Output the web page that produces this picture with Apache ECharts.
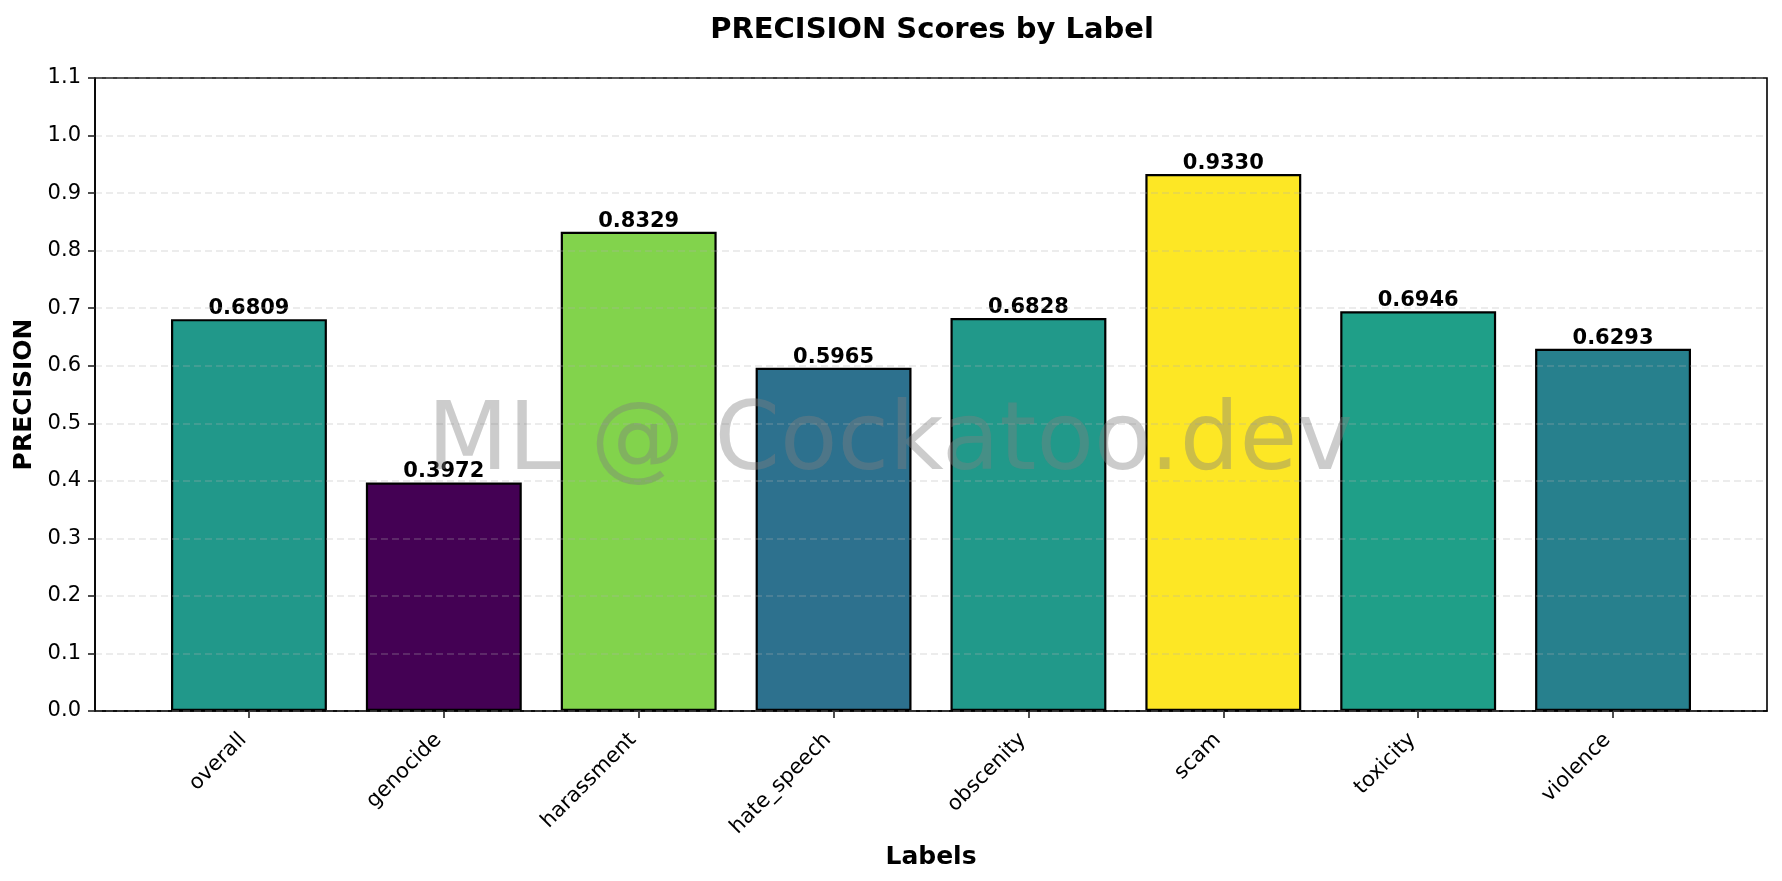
<!DOCTYPE html>
<html>
<head>
<meta charset="utf-8">
<script src="https://cdn.jsdelivr.net/npm/echarts@6/dist/echarts.min.js"></script>
<style>
html,body{margin:0;padding:0;background:#fff;}
#c{width:1782px;height:881px;}
</style>
</head>
<body>
<div id="c"></div>
<script>
var categories = ['overall','genocide','harassment','hate_speech','obscenity','scam','toxicity','violence'];
var values = [0.6809, 0.3972, 0.8329, 0.5965, 0.6828, 0.9330, 0.6946, 0.6293];
var barColors = ['#21988a','#440154','#82d34c','#2d718e','#21998a','#fde725','#1f9f88','#27808d'];
var yTicks = [0,0.1,0.2,0.3,0.4,0.5,0.6,0.7,0.8,0.9,1.0,1.1];

var gridLeft = 95, gridTop = 78, gridRight = 15, gridBottom = 170;
var W = 1782, H = 881;
var xMin = -0.79, xMax = 7.79;
var plotW = W - gridLeft - gridRight;
var barW = plotW * 0.8 / (xMax - xMin);
var font = 'DejaVu Sans';

var chart = echarts.init(document.getElementById('c'), null, {renderer:'canvas'});
var idx = categories.map(function(_, i){ return i; });
chart.setOption({
  animation: false,
  backgroundColor: '#ffffff',
  title: {
    text: 'PRECISION Scores by Label',
    left: gridLeft + plotW/2 - 4, textAlign: 'center', top: 11,
    textStyle: {fontFamily: font, fontWeight: 'bold', fontSize: 29, color: '#000'}
  },
  grid: {left: gridLeft, top: gridTop, right: gridRight, bottom: gridBottom,
         show: true, borderColor: '#000', borderWidth: 1.6, backgroundColor: 'transparent'},
  xAxis: {
    type: 'value', min: xMin, max: xMax,
    name: 'Labels', nameLocation: 'middle', nameGap: 124,
    nameTextStyle: {fontFamily: font, fontWeight: 'bold', fontSize: 25, color: '#000'},
    axisLine: {show: true, onZero: false, lineStyle: {color: '#000', width: 1.6}},
    axisTick: {show: true, customValues: idx, length: 7, lineStyle: {color: '#222', width: 1.6}},
    axisLabel: {customValues: idx, rotate: 45, margin: 20, padding: [0, 8, 0, 0], fontFamily: font, fontSize: 21, color: '#000',
      formatter: function(v){ return categories[Math.round(v)]; }},
    splitLine: {show: false}
  },
  yAxis: {
    type: 'value', min: 0, max: 1.1, interval: 0.1, z: 5,
    name: 'PRECISION', nameLocation: 'middle', nameGap: 54,
    nameTextStyle: {fontFamily: font, fontWeight: 'bold', fontSize: 25, color: '#000'},
    axisLine: {show: true, onZero: false, lineStyle: {color: '#000', width: 1.6}},
    axisTick: {show: true, length: 7, lineStyle: {color: '#222', width: 1.6}},
    axisLabel: {margin: 14, fontFamily: font, fontSize: 21, color: '#000',
      formatter: function(v){ return v.toFixed(1); }},
    splitLine: {show: true, lineStyle: {color: 'rgba(176,176,176,0.32)', width: 1.5, type: [7,4]}}
  },
  series: [{
    type: 'bar', z: 2,
    barWidth: barW,
    data: values.map(function(v, i){
      return {value: [i, v], itemStyle: {color: barColors[i], borderColor: '#000', borderWidth: 2.2}};
    }),
    label: {show: true, position: 'top', distance: 0, fontFamily: font, fontWeight: 'bold', fontSize: 21, color: '#000',
      formatter: function(p){ return p.value[1].toFixed(4); }}
  }],
  graphic: [{
    type: 'text', x: W/2 - 1, y: H/2 + 4, z: 100, silent: true,
    style: {text: 'ML @ Cockatoo.dev', font: '94px "DejaVu Sans"', fill: 'rgba(128,128,128,0.4)',
            align: 'center', verticalAlign: 'middle'}
  }]
});
</script>
</body>
</html>
